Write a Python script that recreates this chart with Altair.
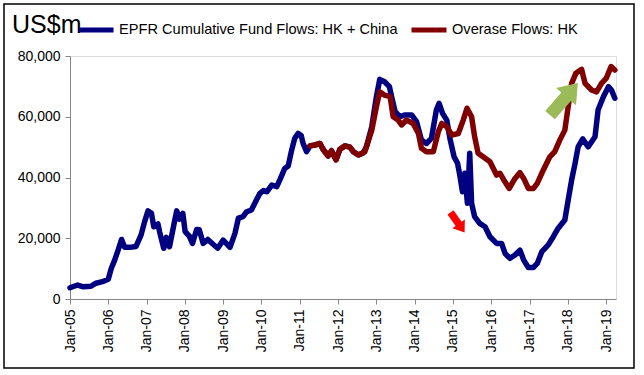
import altair as alt
import pandas as pd

series_names = ["EPFR Cumulative Fund Flows: HK + China", "Overase Flows: HK"]
series_colors = ["#000080", "#800000"]

blue_dates = [
    "2005-01-01", "2005-03-15", "2005-05-08", "2005-07-20", "2005-09-05", "2005-11-06",
    "2006-01-01", "2006-01-30", "2006-03-03", "2006-04-05", "2006-05-08", "2006-06-06",
    "2006-07-23", "2006-09-23", "2006-11-10", "2006-12-13", "2007-01-15", "2007-02-17",
    "2007-03-11", "2007-04-20", "2007-05-05", "2007-06-14", "2007-07-09", "2007-08-08",
    "2007-09-24", "2007-10-16", "2007-11-10", "2007-12-13", "2008-01-04", "2008-02-13",
    "2008-03-14", "2008-04-23", "2008-05-18", "2008-06-24", "2008-08-07", "2008-09-24",
    "2008-11-10", "2009-01-01", "2009-03-07", "2009-04-23", "2009-05-26", "2009-07-09",
    "2009-08-11", "2009-09-27", "2009-11-14", "2009-12-17", "2010-01-19", "2010-02-21",
    "2010-04-09", "2010-05-27", "2010-06-25", "2010-08-11", "2010-09-13", "2010-10-16",
    "2010-11-14", "2010-12-17", "2011-01-15", "2011-02-02", "2011-03-07", "2011-04-09",
    "2011-05-27", "2011-07-13", "2011-08-11", "2011-09-28", "2011-10-31", "2011-12-13",
    "2012-01-19", "2012-03-07", "2012-04-23", "2012-05-26", "2012-07-13", "2012-08-26",
    "2012-09-28", "2012-11-18", "2013-01-01", "2013-02-02", "2013-03-21", "2013-05-05",
    "2013-05-26", "2013-06-28", "2013-08-15", "2013-10-01", "2013-12-03", "2014-01-19",
    "2014-03-07", "2014-04-23", "2014-06-10", "2014-07-27", "2014-08-22", "2014-09-24",
    "2014-11-03", "2014-12-03", "2015-01-12", "2015-02-14", "2015-03-07", "2015-04-02",
    "2015-04-24", "2015-05-19", "2015-06-10", "2015-06-28", "2015-07-27", "2015-09-13",
    "2015-11-03", "2015-12-20", "2016-02-21", "2016-04-09", "2016-05-12", "2016-06-28",
    "2016-08-15", "2016-10-01", "2016-11-06", "2016-12-20", "2017-02-07", "2017-03-15",
    "2017-04-28", "2017-06-28", "2017-08-15", "2017-10-01", "2017-12-03", "2018-01-04",
    "2018-02-06", "2018-03-11", "2018-04-09", "2018-05-23", "2018-07-13", "2018-09-17",
    "2018-10-16", "2018-12-06", "2019-01-23", "2019-02-21", "2019-03-25",
]
blue_values = [
    3700, 4600, 4000, 4200, 5200, 5700,
    6500, 10100, 12800, 16100, 19600, 17000,
    17000, 17300, 21100, 25400, 29000, 28200,
    23800, 24700, 22200, 16700, 20300, 17200,
    25400, 29000, 26300, 28200, 22200, 20700,
    18300, 22900, 22800, 18300, 19600, 18100,
    16700, 19400, 17000, 21600, 26600, 27100,
    28700, 29300, 32600, 34800, 35700, 35300,
    37500, 37000, 39200, 43000, 43800, 49000,
    52900, 54500, 53800, 51200, 48500, 50400,
    50700, 51200, 49300, 47100, 48800, 45800,
    49300, 50400, 50000, 48500, 47400, 48000,
    50100, 56700, 66600, 72300, 71500, 69900,
    66600, 61700, 60000, 60600, 60600, 58400,
    52300, 51200, 52900, 62200, 64400, 61100,
    58900, 52900, 46800, 44700, 40800, 35300,
    41400, 31500, 48000, 31500, 27100, 24900,
    23800, 20500, 18300, 18300, 15000, 13400,
    14500, 16100, 12800, 10400, 10400, 11700,
    15600, 17800, 20500, 23300, 26000, 32600,
    39200, 44700, 50100, 52700, 50100, 53400,
    62200, 66600, 69900, 68800, 66100,
]

red_dates = [
    "2011-04-09", "2011-05-27", "2011-07-13", "2011-08-11", "2011-09-28", "2011-10-31",
    "2011-12-13", "2012-01-19", "2012-03-07", "2012-04-23", "2012-05-26", "2012-07-13",
    "2012-09-13", "2012-11-18", "2013-01-01", "2013-02-02", "2013-03-21", "2013-05-12",
    "2013-06-10", "2013-07-27", "2013-08-29", "2013-10-16", "2013-12-17", "2014-02-06",
    "2014-03-07", "2014-04-23", "2014-06-28", "2014-08-15", "2014-09-17", "2014-11-03",
    "2014-12-20", "2015-02-21", "2015-04-09", "2015-05-15", "2015-06-28", "2015-07-27",
    "2015-08-29", "2015-10-16", "2015-12-20", "2016-02-21", "2016-03-25", "2016-04-30",
    "2016-06-21", "2016-08-15", "2016-10-01", "2016-11-06", "2016-12-20", "2017-02-07",
    "2017-03-15", "2017-05-12", "2017-07-13", "2017-08-29", "2017-10-16", "2017-12-03",
    "2018-01-04", "2018-02-06", "2018-03-18", "2018-05-12", "2018-06-14", "2018-08-15",
    "2018-10-01", "2018-11-18", "2019-01-01", "2019-02-17", "2019-03-25",
]
red_values = [
    50400, 50700, 51200, 49300, 47100, 48800,
    45800, 49300, 50400, 50000, 48500, 47400,
    48500, 55600, 63300, 68200, 67100, 66600,
    60000, 58900, 57300, 58900, 57800, 54500,
    49600, 48500, 48500, 55100, 57800, 56700,
    54000, 54500, 58900, 62800, 60000, 53400,
    48000, 46800, 45200, 40800, 41400, 39200,
    36400, 39700, 41600, 39700, 36400, 36400,
    38100, 42500, 46800, 48500, 52300, 55600,
    63300, 71000, 74300, 75600, 71000, 68800,
    68200, 71000, 72600, 76500, 75400,
]

y_ticks = [0, 20000, 40000, 60000, 80000]

# annotation arrows (data coordinates)
red_arrow_date = ["2015-02-14"]
red_arrow_value = [25200]
green_arrow_date = ["2017-11-25"]
green_arrow_value = [65800]

df = pd.concat([
    pd.DataFrame({"date": blue_dates, "value": blue_values, "series": series_names[0]}),
    pd.DataFrame({"date": red_dates, "value": red_values, "series": series_names[1]}),
], ignore_index=True)

FONT = "Liberation Sans"

x_enc = alt.X(
    "date:T",
    scale=alt.Scale(
        type="utc",
        domain=[alt.DateTime(year=2005, month=1, date=1, utc=True),
                alt.DateTime(year=2019, month=4, date=5, utc=True)],
    ),
    axis=alt.Axis(
        title=None, labelExpr="utcFormat(datum.value, '%b-%y')", labelAngle=-90,
        tickCount={"interval": "year", "step": 1}, grid=False,
        labelFont=FONT, labelFontSize=14, labelColor="black",
        domainColor="#868686", tickColor="#868686", tickSize=5, labelPadding=5,
    ),
)
y_enc = alt.Y(
    "value:Q",
    scale=alt.Scale(domain=[0, 80000], nice=False),
    axis=alt.Axis(
        title=None, values=y_ticks, format=",d", grid=False,
        labelFont=FONT, labelFontSize=14, labelColor="black",
        domainColor="#868686", tickColor="#868686", tickSize=5, labelPadding=5,
    ),
)
color_enc = alt.Color(
    "series:N",
    scale=alt.Scale(domain=series_names, range=series_colors),
    legend=alt.Legend(
        title=None, orient="none", legendX=6, legendY=-46, direction="horizontal",
        symbolType="stroke", symbolStrokeWidth=5, symbolSize=1225,
        labelFont=FONT, labelFontSize=14.6, labelColor="black",
        columnPadding=3, labelOffset=3, padding=0, labelLimit=500,
    ),
)

base = alt.Chart(df).encode(x=x_enc, y=y_enc, color=color_enc)
line_kw = dict(strokeWidth=5.5, strokeJoin="round", strokeCap="round")
blue_line = base.transform_filter(alt.datum.series == series_names[0]).mark_line(**line_kw)
red_line = base.transform_filter(alt.datum.series == series_names[1]).mark_line(**line_kw)

arrow_path = "M0,-1 L0.62,-0.15 L0.3,-0.15 L0.3,1 L-0.3,1 L-0.3,-0.15 L-0.62,-0.15 Z"

red_arrow = alt.Chart(pd.DataFrame({"date": red_arrow_date, "value": red_arrow_value})).mark_point(
    shape=arrow_path, filled=True, color="#FF0000", opacity=1, size=600, angle=145, strokeWidth=0
).encode(x="date:T", y="value:Q")

green_arrow = alt.Chart(pd.DataFrame({"date": green_arrow_date, "value": green_arrow_value})).mark_point(
    shape=arrow_path, filled=True, color="#9BBB59", opacity=1, size=1800, angle=41, strokeWidth=0
).encode(x="date:T", y="value:Q")

dummy = pd.DataFrame({"a": [0]})
frame = alt.Chart(dummy).mark_rect(fillOpacity=0, stroke="black", strokeWidth=1.5).encode(
    x=alt.value(-66), x2=alt.value(564), y=alt.value(-52), y2=alt.value(312)
)
unit_title = alt.Chart(dummy).mark_text(
    text="US$m", font=FONT, fontSize=25, align="left", baseline="alphabetic", color="black"
).encode(x=alt.value(-58), y=alt.value(-23))

chart = alt.layer(frame, unit_title, blue_line, red_line, red_arrow, green_arrow).properties(
    width=546, height=243,
    autosize=alt.AutoSizeParams(type="none"),
    padding={"left": 70, "top": 56, "right": 28, "bottom": 76},
).configure_view(stroke=None).configure(background="white")

chart.save("out.html", embed_options={"renderer": "svg", "actions": False})
